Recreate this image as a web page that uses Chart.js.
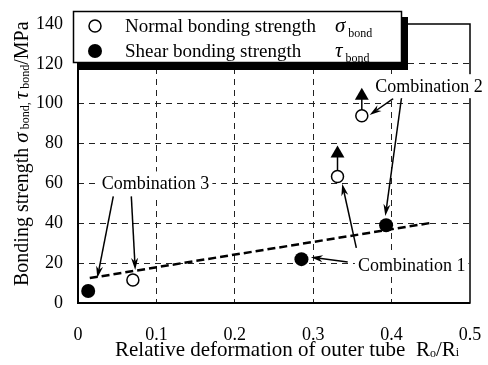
<!DOCTYPE html>
<html>
<head>
<meta charset="utf-8">
<script src="https://cdn.jsdelivr.net/npm/chart.js@4.4.1/dist/chart.umd.min.js"></script>
<style>
  html, body { margin: 0; padding: 0; background: #fff; }
  canvas { display: block; }
</style>
</head>
<body>
<canvas id="chart" width="488" height="365"></canvas>
<script>
const xTicks = [0, 0.1, 0.2, 0.3, 0.4, 0.5];
const yTicks = [0, 20, 40, 60, 80, 100, 120, 140];

// normal bonding strength (open circles)
const normalX = [0.07, 0.331, 0.362];
const normalY = [11.5, 63.5, 94];
// shear bonding strength (filled circles)
const shearX = [0.013, 0.285, 0.393];
const shearY = [6, 22, 39];
// specimens that did not separate: value is a lower bound
const boundX = [0.331, 0.362];
const boundY = [75, 104];
// dashed trend through the shear results
const trendX = [0.015, 0.45];
const trendY = [12.5, 40.2];

const toPoints = (xs, ys) => xs.map((x, i) => ({ x: x, y: ys[i] }));

const serif = '"Liberation Serif", "Times New Roman", serif';

// callouts, anchored in axis units
const notes = [
  { label: 'Combination 3', at: [0.099, 60], align: 'center',
    arrows: [[0.045, 53.5, 0.0246, 12.5], [0.068, 53.5, 0.073, 16.6]] },
  { label: 'Combination 1', at: [0.357, 19.1], align: 'left',
    arrows: [[0.344, 20.6, 0.297, 23], [0.355, 27.7, 0.337, 59.8]] },
  { label: 'Combination 2', at: [0.379, 108.8], align: 'left',
    arrows: [[0.402, 102.6, 0.372, 94.3], [0.413, 104, 0.392, 43.6]] }
];

function drawArrow(ctx, x1, y1, x2, y2) {
  const a = Math.atan2(y2 - y1, x2 - x1);
  const c = Math.cos(a), s = Math.sin(a);
  const len = 12, half = 3.5;
  ctx.beginPath();
  ctx.moveTo(x1, y1);
  ctx.lineTo(x2 - c * len * 0.7, y2 - s * len * 0.7);
  ctx.stroke();
  ctx.beginPath();
  ctx.moveTo(x2, y2);
  ctx.lineTo(x2 - c * len - s * half, y2 - s * len + c * half);
  ctx.lineTo(x2 - c * len * 0.7, y2 - s * len * 0.7);
  ctx.lineTo(x2 - c * len + s * half, y2 - s * len - c * half);
  ctx.closePath();
  ctx.fill();
}

function drawRuns(ctx, runs, x, y) {
  for (const r of runs) {
    ctx.font = r.font;
    ctx.fillText(r.text, x, y + (r.dy || 0));
    x += ctx.measureText(r.text).width;
  }
  return x;
}

const decorations = {
  id: 'decorations',
  afterDraw(chart) {
    const ctx = chart.ctx;
    const { left, right, top, bottom } = chart.chartArea;
    const xs = chart.scales.x, ys = chart.scales.y;
    ctx.save();
    ctx.strokeStyle = '#000';
    ctx.fillStyle = '#000';

    // plot frame
    ctx.lineWidth = 1.5;
    ctx.strokeRect(left, top, right - left, bottom - top);
    ctx.lineWidth = 2;
    ctx.beginPath();
    ctx.moveTo(left, top); ctx.lineTo(left, bottom); ctx.lineTo(right, bottom);
    ctx.stroke();

    // callout arrows and labels
    ctx.lineWidth = 1.5;
    ctx.font = '18px ' + serif;
    ctx.textBaseline = 'middle';
    for (const n of notes) {
      for (const a of n.arrows) {
        drawArrow(ctx, xs.getPixelForValue(a[0]), ys.getPixelForValue(a[1]),
                  xs.getPixelForValue(a[2]), ys.getPixelForValue(a[3]));
      }
    }
    for (const n of notes) {
      const px = xs.getPixelForValue(n.at[0]);
      const py = ys.getPixelForValue(n.at[1]);
      const w = ctx.measureText(n.label).width;
      const x0 = n.align === 'center' ? px - w / 2 : px;
      ctx.fillStyle = '#fff';
      ctx.fillRect(x0 - 3, py - 12, w + 6, 24);
      ctx.fillStyle = '#000';
      ctx.textAlign = 'left';
      ctx.fillText(n.label, x0, py + 1);
    }

    // legend box with drop shadow
    ctx.fillStyle = '#000';
    ctx.fillRect(79, 17, 329, 53);
    ctx.fillStyle = '#fff';
    ctx.fillRect(73, 11, 329, 52);
    ctx.lineWidth = 1.5;
    ctx.strokeRect(73.5, 11.5, 328, 51);
    ctx.beginPath();
    ctx.arc(95, 26, 6, 0, Math.PI * 2);
    ctx.fillStyle = '#fff'; ctx.fill(); ctx.stroke();
    ctx.beginPath();
    ctx.arc(95, 51, 7, 0, Math.PI * 2);
    ctx.fillStyle = '#000'; ctx.fill();
    ctx.textBaseline = 'alphabetic';
    ctx.font = '19px ' + serif;
    ctx.fillText('Normal bonding strength', 125, 32);
    ctx.fillText('Shear bonding strength', 125, 57);
    drawRuns(ctx, [{ text: 'σ', font: 'italic 21px ' + serif },
                   { text: ' bond', font: '12px ' + serif, dy: 5 }], 335, 32);
    drawRuns(ctx, [{ text: 'τ', font: 'italic 21px ' + serif },
                   { text: ' bond', font: '12px ' + serif, dy: 5 }], 335, 57);

    // x axis title
    drawRuns(ctx, [
      { text: 'Relative deformation of outer tube  R', font: '21px ' + serif },
      { text: 'o', font: '12px ' + serif, dy: 1 },
      { text: '/R', font: '21px ' + serif },
      { text: 'i', font: '12px ' + serif }
    ], 115, 356);

    // y axis title
    ctx.translate(28, 286);
    ctx.rotate(-Math.PI / 2);
    drawRuns(ctx, [
      { text: 'Bonding strength ', font: '20px ' + serif },
      { text: 'σ', font: 'italic 21px ' + serif },
      { text: ' bond, ', font: '12px ' + serif, dy: 1 },
      { text: 'τ', font: 'italic 21px ' + serif },
      { text: ' bond', font: '12px ' + serif, dy: 1 },
      { text: '/MPa', font: '20px ' + serif }
    ], 0, 0);
    ctx.restore();
  }
};

const gridColor = (lo, hi) => c => (c.tick && c.tick.value > lo && c.tick.value < hi) ? '#222' : 'rgba(0,0,0,0)';

new Chart(document.getElementById('chart'), {
  type: 'scatter',
  data: {
    datasets: [
      {
        label: 'Normal bonding strength',
        data: toPoints(normalX, normalY),
        pointStyle: 'circle',
        pointRadius: 6,
        pointBackgroundColor: '#fff',
        pointBorderColor: '#000',
        pointBorderWidth: 1.5
      },
      {
        label: 'Shear bonding strength',
        data: toPoints(shearX, shearY),
        pointStyle: 'circle',
        pointRadius: 7,
        pointBackgroundColor: '#000',
        pointBorderColor: '#000',
        pointBorderWidth: 0
      },
      {
        label: 'lower bound',
        data: toPoints(boundX, boundY),
        pointStyle: 'triangle',
        pointRadius: 8,
        pointBackgroundColor: '#000',
        pointBorderColor: '#000',
        pointBorderWidth: 0
      },
      // stems from each open circle up to its lower-bound marker
      ...boundX.map((x, i) => ({
        type: 'line',
        data: [{ x: x, y: normalY[normalX.indexOf(x)] }, { x: x, y: boundY[i] }],
        borderColor: '#000',
        borderWidth: 1.5,
        pointRadius: 0
      })),
      {
        type: 'line',
        label: 'trend',
        data: toPoints(trendX, trendY),
        borderColor: '#000',
        borderWidth: 2.5,
        borderDash: [8, 4],
        pointRadius: 0
      }
    ]
  },
  options: {
    responsive: false,
    animation: false,
    events: [],
    layout: { padding: { top: 24, right: 18, left: 0, bottom: 0 } },
    plugins: { legend: { display: false }, tooltip: { enabled: false } },
    scales: {
      x: {
        type: 'linear',
        min: xTicks[0],
        max: xTicks[xTicks.length - 1],
        afterFit: s => { s.height = 62; s.paddingLeft = 0; s.paddingRight = 0; },
        afterBuildTicks: s => { s.ticks = xTicks.map(v => ({ value: v })); },
        ticks: {
          color: '#000',
          padding: 21,
          font: { family: serif, size: 18 },
          callback: v => v === 0 ? '0' : v.toFixed(1)
        },
        grid: { color: gridColor(0, 0.5), drawTicks: false, lineWidth: 1 },
        border: { display: false, dash: [6, 5] }
      },
      y: {
        min: yTicks[0],
        max: yTicks[yTicks.length - 1],
        afterFit: s => { s.width = 78; s.paddingTop = 0; s.paddingBottom = 0; },
        afterBuildTicks: s => { s.ticks = yTicks.map(v => ({ value: v })); },
        ticks: {
          color: '#000',
          padding: 15,
          font: { family: serif, size: 18 }
        },
        grid: { color: gridColor(0, 140), drawTicks: false, lineWidth: 1 },
        border: { display: false, dash: [6, 5] }
      }
    }
  },
  plugins: [decorations]
});
</script>
</body>
</html>
